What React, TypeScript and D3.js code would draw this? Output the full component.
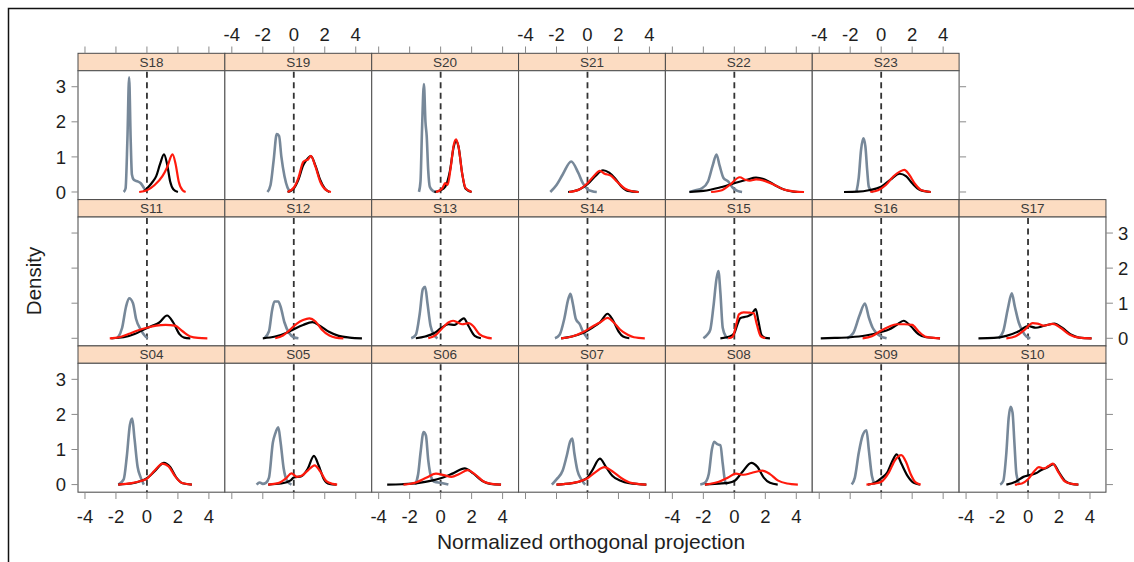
import React from "react";
import * as d3 from "d3";

type Pt = [number, number];

// ---------------- data ----------------
const panelNames = [
  "S18", "S19", "S20", "S21", "S22", "S23",
  "S11", "S12", "S13", "S14", "S15", "S16", "S17",
  "S04", "S05", "S06", "S07", "S08", "S09", "S10",
];
const panelRows = [0, 0, 0, 0, 0, 0, 1, 1, 1, 1, 1, 1, 1, 2, 2, 2, 2, 2, 2, 2];
const panelCols = [0, 1, 2, 3, 4, 5, 0, 1, 2, 3, 4, 5, 6, 0, 1, 2, 3, 4, 5, 6];
const xTicks = [-4, -2, 0, 2, 4];
const yTicks = [0, 1, 2, 3];
const xDomain: [number, number] = [-4.45, 5.03];
const yDomain: [number, number] = [-0.217, 3.457];
const xTitle = "Normalized orthogonal projection";
const yTitle = "Density";

// grey curves (one per panel, same order as panelNames)
const grayCurves: Pt[][] = [
  // S18
  [[-1.5, 0], [-1.38, 0.1], [-1.26, 1.5], [-1.15, 3.27], [-1.05, 1.5], [-0.97, 0.5], [-0.85, 0.35], [-0.6, 0.3], [-0.4, 0.25], [-0.2, 0.12], [-0.1, 0.04]],
  // S19
  [[-1.7, 0], [-1.5, 0.2], [-1.3, 0.9], [-1.1, 1.65], [-0.95, 1.6], [-0.8, 1.0], [-0.6, 0.45], [-0.4, 0.12], [-0.2, 0]],
  // S20
  [[-1.4, 0], [-1.3, 0.3], [-1.2, 1.8], [-1.08, 3.08], [-0.98, 2.0], [-0.9, 1.6], [-0.8, 0.6], [-0.7, 0.15], [-0.5, 0.03], [-0.3, 0]],
  // S21
  [[-2.4, 0], [-2.0, 0.2], [-1.6, 0.5], [-1.05, 0.87], [-0.6, 0.55], [-0.3, 0.25], [0, 0.08], [0.3, 0.02], [0.6, 0]],
  // S22
  [[-2.9, 0], [-2.5, 0.05], [-2.1, 0.1], [-1.7, 0.3], [-1.4, 0.75], [-1.15, 1.07], [-0.95, 0.75], [-0.7, 0.4], [-0.4, 0.3], [-0.1, 0.12], [0.2, 0.03], [0.5, 0]],
  // S23
  [[-1.6, 0], [-1.45, 0.4], [-1.3, 1.2], [-1.15, 1.53], [-1.02, 1.3], [-0.9, 0.6], [-0.8, 0.15], [-0.6, 0.02], [-0.5, 0]],
  // S11
  [[-1.9, 0], [-1.6, 0.3], [-1.35, 0.9], [-1.15, 1.14], [-0.9, 1.0], [-0.7, 0.55], [-0.4, 0.25], [-0.15, 0.08], [0.05, 0]],
  // S12
  [[-1.9, 0], [-1.6, 0.2], [-1.4, 0.8], [-1.25, 1.05], [-1.0, 1.05], [-0.85, 0.9], [-0.6, 0.45], [-0.3, 0.15], [0, 0.03], [0.3, 0]],
  // S13
  [[-1.9, 0], [-1.6, 0.1], [-1.35, 0.7], [-1.15, 1.4], [-1.0, 1.47], [-0.85, 1.0], [-0.65, 0.35], [-0.4, 0.08], [-0.2, 0]],
  // S14
  [[-2.1, 0], [-1.8, 0.1], [-1.5, 0.55], [-1.25, 1.1], [-1.1, 1.27], [-0.95, 1.0], [-0.75, 0.55], [-0.5, 0.4], [-0.3, 0.2], [0, 0]],
  // S15
  [[-2.0, 0], [-1.75, 0.1], [-1.55, 0.25], [-1.35, 0.9], [-1.15, 1.7], [-1.03, 1.92], [-0.9, 1.3], [-0.75, 0.3], [-0.55, 0.05], [-0.4, 0]],
  // S16
  [[-2.2, 0], [-1.8, 0.15], [-1.4, 0.65], [-1.05, 0.99], [-0.8, 0.6], [-0.55, 0.3], [-0.3, 0.15], [0, 0.05], [0.35, 0]],
  // S17
  [[-1.9, 0], [-1.6, 0.2], [-1.3, 0.85], [-1.05, 1.28], [-0.85, 0.9], [-0.6, 0.45], [-0.35, 0.2], [-0.1, 0.05], [0.15, 0]],
  // S04
  [[-1.85, 0], [-1.5, 0.15], [-1.3, 0.8], [-1.1, 1.7], [-0.95, 1.88], [-0.8, 1.3], [-0.6, 0.5], [-0.4, 0.2], [-0.2, 0]],
  // S05
  [[-2.4, 0], [-2.2, 0.06], [-2.0, 0.02], [-1.8, 0.05], [-1.6, 0.2], [-1.35, 1.2], [-1.2, 1.45], [-1.0, 1.63], [-0.85, 1.2], [-0.65, 0.45], [-0.45, 0.12], [-0.15, 0]],
  // S06
  [[-1.65, 0], [-1.45, 0.3], [-1.3, 0.9], [-1.1, 1.5], [-0.95, 1.4], [-0.8, 0.7], [-0.6, 0.2], [-0.4, 0.08], [0, 0.05], [0.5, 0]],
  // S07
  [[-2.3, 0], [-2.0, 0.15], [-1.6, 0.4], [-1.35, 0.8], [-1.1, 1.25], [-0.98, 1.31], [-0.85, 0.9], [-0.65, 0.4], [-0.4, 0.15], [-0.15, 0]],
  // S08
  [[-2.2, 0], [-1.9, 0.05], [-1.65, 0.3], [-1.45, 1.0], [-1.3, 1.22], [-1.1, 1.15], [-0.9, 1.12], [-0.75, 0.6], [-0.6, 0.1], [-0.45, 0]],
  // S09
  [[-1.9, 0], [-1.7, 0.2], [-1.45, 0.9], [-1.2, 1.4], [-0.95, 1.55], [-0.8, 1.0], [-0.6, 0.25], [-0.4, 0]],
  // S10
  [[-1.8, 0], [-1.6, 0.1], [-1.4, 0.9], [-1.25, 1.9], [-1.12, 2.22], [-1.0, 2.05], [-0.88, 1.2], [-0.75, 0.3], [-0.55, 0]],
];

// black curves
const blackCurves: Pt[][] = [
  // S18
  [[-0.2, 0.02], [0, 0.1], [0.3, 0.25], [0.6, 0.45], [0.85, 0.8], [1.1, 1.07], [1.3, 0.8], [1.5, 0.3], [1.7, 0.08], [2.0, 0]],
  // S19
  [[-0.4, 0], [0, 0.1], [0.3, 0.35], [0.6, 0.75], [0.8, 0.9], [1.1, 1.02], [1.4, 0.75], [1.7, 0.35], [2.0, 0.1], [2.3, 0]],
  // S20
  [[-0.4, 0], [0, 0.05], [0.3, 0.15], [0.6, 0.6], [0.85, 1.3], [1.0, 1.45], [1.15, 1.3], [1.4, 0.5], [1.6, 0.1], [2.0, 0]],
  // S21
  [[-1.25, 0], [-0.5, 0.08], [0, 0.22], [0.5, 0.45], [1.0, 0.62], [1.4, 0.55], [1.8, 0.38], [2.2, 0.15], [2.6, 0.03], [3.3, 0]],
  // S22
  [[-2.9, 0], [-2, 0.03], [-1, 0.12], [0, 0.25], [0.8, 0.35], [1.4, 0.41], [2.0, 0.35], [2.6, 0.2], [3.2, 0.07], [3.8, 0.01], [4.2, 0]],
  // S23
  [[-2.4, 0], [-1.5, 0.01], [-0.8, 0.05], [0, 0.15], [0.6, 0.35], [1.2, 0.52], [1.6, 0.45], [2.0, 0.25], [2.5, 0.06], [3.2, 0]],
  // S11
  [[-2.3, 0], [-1.5, 0.03], [-0.8, 0.12], [-0.2, 0.25], [0.3, 0.35], [0.8, 0.45], [1.3, 0.65], [1.7, 0.45], [2.1, 0.12], [2.4, 0.02], [2.8, 0]],
  // S12
  [[-2, 0], [-1.2, 0.05], [-0.5, 0.15], [0, 0.26], [0.6, 0.38], [1.2, 0.46], [1.7, 0.35], [2.3, 0.18], [2.9, 0.07], [3.6, 0.02], [4.4, 0]],
  // S13
  [[-1.6, 0], [-1, 0.05], [-0.4, 0.15], [0, 0.28], [0.5, 0.4], [0.9, 0.38], [1.5, 0.57], [1.8, 0.35], [2.2, 0.07], [2.6, 0]],
  // S14
  [[-1.7, 0], [-1, 0.05], [-0.3, 0.15], [0.3, 0.3], [0.8, 0.45], [1.3, 0.7], [1.6, 0.55], [2.0, 0.2], [2.3, 0.05], [2.7, 0]],
  // S15
  [[-0.9, 0], [-0.3, 0.05], [0, 0.15], [0.2, 0.4], [0.4, 0.58], [0.8, 0.62], [1.1, 0.68], [1.38, 0.83], [1.55, 0.5], [1.75, 0.1], [2.0, 0.01], [2.3, 0]],
  // S16
  [[-3.9, 0], [-3, 0.01], [-2, 0.03], [-1, 0.08], [0, 0.18], [0.5, 0.25], [1.0, 0.38], [1.45, 0.5], [1.9, 0.35], [2.4, 0.12], [2.9, 0.03], [3.8, 0]],
  // S17
  [[-3.2, 0], [-2.2, 0.01], [-1.4, 0.07], [-0.6, 0.2], [0, 0.35], [0.5, 0.3], [1.0, 0.35], [1.7, 0.42], [2.2, 0.3], [2.8, 0.1], [3.3, 0.02], [4.1, 0]],
  // S04
  [[-1.85, 0], [-1, 0.03], [-0.4, 0.1], [0, 0.18], [0.5, 0.38], [1.1, 0.62], [1.5, 0.5], [1.9, 0.2], [2.3, 0.04], [2.9, 0]],
  // S05
  [[-1.65, 0], [-0.8, 0.03], [-0.2, 0.12], [0, 0.2], [0.5, 0.24], [0.9, 0.45], [1.3, 0.82], [1.6, 0.55], [1.95, 0.15], [2.3, 0.02], [2.75, 0]],
  // S06
  [[-3.45, 0], [-2.5, 0.01], [-1.5, 0.04], [-0.5, 0.12], [0, 0.18], [0.8, 0.32], [1.55, 0.46], [2.1, 0.32], [2.7, 0.1], [3.2, 0.02], [3.9, 0]],
  // S07
  [[-2, 0], [-1, 0.04], [-0.3, 0.12], [0, 0.2], [0.3, 0.4], [0.8, 0.74], [1.2, 0.5], [1.6, 0.25], [2.1, 0.12], [2.7, 0.04], [3.8, 0]],
  // S08
  [[-1.9, 0], [-1.0, 0.03], [-0.4, 0.05], [0, 0.1], [0.5, 0.35], [1.1, 0.62], [1.5, 0.5], [1.9, 0.2], [2.3, 0.05], [2.8, 0]],
  // S09
  [[-0.85, 0], [-0.4, 0.05], [0, 0.18], [0.4, 0.35], [0.7, 0.65], [1.0, 0.86], [1.3, 0.6], [1.7, 0.25], [2.1, 0.05], [2.5, 0]],
  // S10
  [[-1.4, 0], [-0.8, 0.08], [-0.3, 0.22], [0.1, 0.27], [0.5, 0.32], [0.8, 0.4], [1.2, 0.48], [1.65, 0.58], [2.0, 0.35], [2.4, 0.1], [2.8, 0.02], [3.25, 0]],
];

// red curves
const redCurves: Pt[][] = [
  // S18
  [[-0.5, 0], [0, 0.05], [0.5, 0.2], [1.0, 0.45], [1.3, 0.7], [1.65, 1.07], [1.85, 0.8], [2.05, 0.3], [2.3, 0.05], [2.5, 0]],
  // S19
  [[-0.4, 0], [0, 0.12], [0.3, 0.4], [0.6, 0.85], [0.75, 0.9], [0.9, 0.92], [1.1, 1.03], [1.4, 0.72], [1.7, 0.3], [2.1, 0.05], [2.4, 0]],
  // S20
  [[-0.3, 0], [0.1, 0.1], [0.3, 0.25], [0.45, 0.2], [0.65, 0.7], [0.85, 1.35], [1.0, 1.5], [1.15, 1.3], [1.4, 0.5], [1.6, 0.12], [2.0, 0]],
  // S21
  [[-1.2, 0], [-0.5, 0.08], [0, 0.25], [0.4, 0.45], [0.8, 0.6], [1.1, 0.52], [1.5, 0.47], [1.9, 0.3], [2.4, 0.1], [2.9, 0.02], [3.3, 0]],
  // S22
  [[-1.5, 0], [-0.8, 0.05], [-0.3, 0.2], [0.35, 0.42], [0.7, 0.35], [1.0, 0.32], [1.4, 0.36], [2.0, 0.31], [2.6, 0.2], [3.2, 0.07], [3.8, 0.02], [4.5, 0]],
  // S23
  [[-0.7, 0], [-0.2, 0.05], [0.3, 0.2], [0.8, 0.45], [1.2, 0.58], [1.5, 0.63], [1.8, 0.5], [2.2, 0.22], [2.6, 0.05], [3.2, 0]],
  // S11
  [[-2.4, 0], [-1.8, 0.03], [-1.2, 0.12], [-0.6, 0.22], [0, 0.3], [0.6, 0.36], [1.2, 0.38], [1.8, 0.36], [2.3, 0.2], [2.8, 0.05], [3.3, 0.01], [3.9, 0]],
  // S12
  [[-1.2, 0], [-0.7, 0.08], [-0.3, 0.22], [0.2, 0.42], [0.6, 0.52], [1.0, 0.57], [1.4, 0.48], [1.8, 0.25], [2.3, 0.08], [2.7, 0.02], [3.2, 0]],
  // S13
  [[-0.8, 0], [-0.3, 0.1], [0.2, 0.33], [0.5, 0.45], [0.8, 0.5], [1.1, 0.45], [1.4, 0.4], [1.8, 0.43], [2.1, 0.35], [2.5, 0.12], [3.0, 0.02], [3.3, 0]],
  // S14
  [[-1.7, 0], [-1, 0.05], [-0.3, 0.17], [0.3, 0.33], [0.8, 0.45], [1.3, 0.58], [1.7, 0.45], [2.1, 0.25], [2.6, 0.1], [3.0, 0.03], [3.7, 0]],
  // S15
  [[-0.4, 0], [-0.1, 0.05], [0.1, 0.35], [0.3, 0.68], [0.6, 0.74], [1.0, 0.73], [1.25, 0.72], [1.45, 0.4], [1.7, 0.06], [2.0, 0]],
  // S16
  [[-1.2, 0], [-0.6, 0.06], [0, 0.22], [0.5, 0.33], [1.0, 0.4], [1.5, 0.4], [2.0, 0.38], [2.4, 0.2], [2.9, 0.04], [3.8, 0]],
  // S17
  [[-1.4, 0], [-0.8, 0.06], [-0.2, 0.25], [0.3, 0.43], [0.6, 0.42], [1.0, 0.36], [1.6, 0.41], [2.1, 0.3], [2.7, 0.1], [3.3, 0.02], [4.1, 0]],
  // S04
  [[-1.85, 0], [-1, 0.04], [-0.4, 0.1], [0, 0.17], [0.5, 0.4], [1.0, 0.6], [1.4, 0.52], [1.8, 0.25], [2.2, 0.06], [2.9, 0]],
  // S05
  [[-1.65, 0], [-1.0, 0.04], [-0.5, 0.18], [-0.15, 0.32], [0.2, 0.22], [0.5, 0.25], [0.9, 0.4], [1.35, 0.55], [1.7, 0.38], [2.1, 0.1], [2.5, 0.02], [2.8, 0]],
  // S06
  [[-2.4, 0], [-1.6, 0.06], [-0.9, 0.2], [-0.3, 0.31], [0.2, 0.27], [0.7, 0.22], [1.2, 0.3], [1.75, 0.41], [2.2, 0.3], [2.8, 0.08], [3.3, 0.02], [3.9, 0]],
  // S07
  [[-2, 0], [-1, 0.04], [-0.3, 0.12], [0, 0.18], [0.5, 0.35], [1.1, 0.5], [1.6, 0.38], [2.2, 0.18], [2.8, 0.05], [3.8, 0]],
  // S08
  [[-1.9, 0], [-1, 0.08], [-0.4, 0.2], [0.1, 0.31], [0.6, 0.28], [1.1, 0.33], [1.8, 0.4], [2.3, 0.3], [2.8, 0.12], [3.4, 0.03], [4.1, 0]],
  // S09
  [[-0.95, 0], [-0.4, 0.03], [0, 0.08], [0.5, 0.35], [0.9, 0.7], [1.3, 0.84], [1.6, 0.65], [1.9, 0.3], [2.2, 0.07], [2.55, 0]],
  // S10
  [[-0.85, 0], [-0.4, 0.03], [0, 0.15], [0.4, 0.38], [0.7, 0.5], [1.0, 0.46], [1.3, 0.52], [1.6, 0.6], [1.9, 0.4], [2.3, 0.12], [2.7, 0.03], [3.25, 0]],
];

// ---------------- layout ----------------
const W = 1134;
const H = 562;
const left0 = 78;
const top0 = 53.3;
const colW = 146.85;
const rowH = 146.3;
const stripH = 17.4;
const plotH = rowH - stripH;
const FONT = "'Liberation Sans', Arial, Helvetica, sans-serif";

const x = d3.scaleLinear().domain(xDomain).range([0, colW]);
const y = d3.scaleLinear().domain(yDomain).range([plotH, 0]);
const line = d3
  .line<Pt>()
  .x((d) => x(d[0]))
  .y((d) => y(d[1]))
  .curve(d3.curveMonotoneX);

const rowCols = [6, 7, 7]; // number of panels in each row

export default function App() {
  const panels = panelNames.map((name, i) => {
    const px = left0 + panelCols[i] * colW;
    const py = top0 + panelRows[i] * rowH;
    return (
      <g key={name} transform={`translate(${px},${py})`}>
        <rect x={0} y={0} width={colW} height={stripH} fill="#fcdcc2" stroke="#4a4a4a" strokeWidth={1} />
        <text x={colW / 2} y={13.4} textAnchor="middle" fontSize={13.5} fill="#3a3a3a" fontFamily={FONT}>
          {name}
        </text>
        <g transform={`translate(0,${stripH})`}>
          <rect x={0} y={0} width={colW} height={plotH} fill="#fff" stroke="#555" strokeWidth={1.1} />
          <line x1={x(0)} x2={x(0)} y1={1} y2={plotH} stroke="#333" strokeWidth={1.8} strokeDasharray="6,4.5" />
          <path d={line(grayCurves[i]) || ""} fill="none" stroke="#778899" strokeWidth={2.6} strokeLinejoin="round" />
          <path d={line(blackCurves[i]) || ""} fill="none" stroke="#000" strokeWidth={2.2} strokeLinejoin="round" />
          <path d={line(redCurves[i]) || ""} fill="none" stroke="#ff1a0d" strokeWidth={2.2} strokeLinejoin="round" />
        </g>
      </g>
    );
  });

  const axes: React.ReactNode[] = [];
  const tickCol = "#8a8a8a";
  const labCol = "#1e1e1e";
  // left & right axes per row
  for (let r = 0; r < 3; r++) {
    const pTop = top0 + r * rowH + stripH;
    const rightX = left0 + rowCols[r] * colW;
    yTicks.forEach((t) => {
      const ty = pTop + y(t);
      axes.push(<line key={`l${r}${t}`} x1={left0} x2={left0 - 6.5} y1={ty} y2={ty} stroke={tickCol} strokeWidth={1} />);
      axes.push(<line key={`r${r}${t}`} x1={rightX} x2={rightX + 7} y1={ty} y2={ty} stroke={tickCol} strokeWidth={1} />);
      if (r !== 1) {
        axes.push(
          <text key={`lt${r}${t}`} x={left0 - 12} y={ty} dy="0.36em" textAnchor="end" fontSize={18.5} fill={labCol} fontFamily={FONT}>
            {t}
          </text>
        );
      } else {
        axes.push(
          <text key={`rt${r}${t}`} x={rightX + 12} y={ty} dy="0.36em" textAnchor="start" fontSize={18.5} fill={labCol} fontFamily={FONT}>
            {t}
          </text>
        );
      }
    });
  }
  // top axis (row 0) and bottom axis (row 2)
  for (let c = 0; c < 7; c++) {
    const cx = left0 + c * colW;
    xTicks.forEach((t) => {
      const tx = cx + x(t);
      if (c < 6) {
        axes.push(<line key={`t${c}${t}`} x1={tx} x2={tx} y1={top0} y2={top0 - 6.8} stroke={tickCol} strokeWidth={1} />);
        if (c % 2 === 1) {
          axes.push(
            <text key={`tt${c}${t}`} x={tx} y={40.7} textAnchor="middle" fontSize={18.5} fill={labCol} fontFamily={FONT}>
              {t}
            </text>
          );
        }
      }
      const by = top0 + 3 * rowH;
      axes.push(<line key={`b${c}${t}`} x1={tx} x2={tx} y1={by} y2={by + 6.8} stroke={tickCol} strokeWidth={1} />);
      if (c % 2 === 0) {
        axes.push(
          <text key={`bt${c}${t}`} x={tx} y={522.5} textAnchor="middle" fontSize={18.5} fill={labCol} fontFamily={FONT}>
            {t}
          </text>
        );
      }
    });
  }

  return (
    <svg
      width={W}
      height={H}
      style={{ position: "absolute", left: 0, top: 0, background: "#fff" }}
      xmlns="http://www.w3.org/2000/svg"
    >
      <rect x={0} y={0} width={W} height={H} fill="#fff" />
      <rect x={8.5} y={8.5} width={1300} height={700} fill="none" stroke="#111" strokeWidth={1.5} />
      {panels}
      {axes}
      <text
        transform={`translate(33.5,281) rotate(-90)`}
        textAnchor="middle"
        dy="0.35em"
        fontSize={20.5}
        fill={labCol}
        fontFamily={FONT}
      >
        {yTitle}
      </text>
      <text x={591} y={549} textAnchor="middle" fontSize={21} fill={labCol} fontFamily={FONT}>
        {xTitle}
      </text>
    </svg>
  );
}
